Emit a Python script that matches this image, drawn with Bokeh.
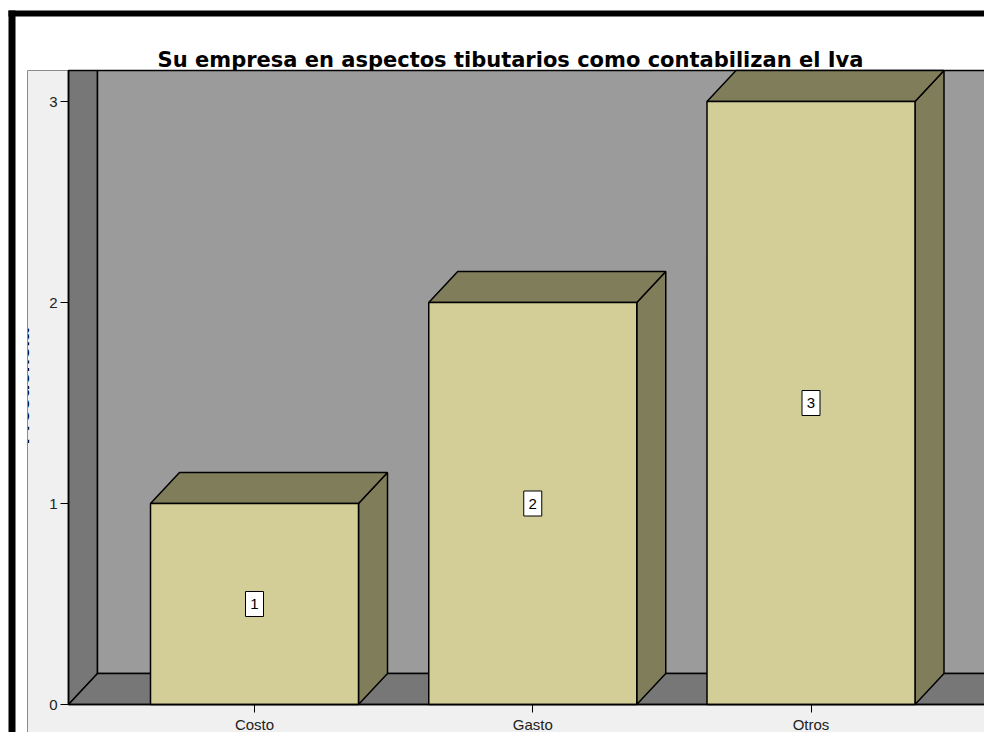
from bokeh.plotting import figure
from bokeh.models import Range1d, LinearAxis, FixedTicker
from bokeh.core.properties import value
from bokeh.embed import file_html
from bokeh.resources import INLINE

# ---------------- data ----------------
categories = ["Costo", "Gasto", "Otros"]
counts = [1, 2, 3]
value_labels = ["1", "2", "3"]
y_ticks = [0, 1, 2, 3]
title_text = "Su empresa en aspectos tibutarios como contabilizan el Iva"
y_title = "Frecuencia"

# ---------------- geometry (picture pixels -> data units) ----------------
W, H = 984, 732
X0_PX, X_UNIT = 254.0, 278.25   # centre of first category, px per category
Y0_PX, Y_UNIT = 704.0, 201.0    # baseline of counts, px per count


def fx(px):
    return (px - X0_PX) / X_UNIT


def fy(py):
    return (Y0_PX - py) / Y_UNIT


BW = 208.0 / X_UNIT       # bar width
DX = 29.0 / X_UNIT        # 3D depth (x)
DY = 31.0 / Y_UNIT        # 3D depth (y)

FONT = value("Liberation Sans")

FRONT = "#D3CE97"
SHADE = "#807E5A"
BACK = "#9B9B9B"
DARK = "#777777"
PANEL = "#F0F0F0"

p = figure(width=W, height=H, output_backend="svg", toolbar_location=None,
           x_range=Range1d(fx(0), fx(W)),
           y_range=Range1d(fy(H), fy(0)),
           x_axis_type=None, y_axis_type=None,
           min_border=0, min_border_left=0, min_border_right=0,
           min_border_top=0, min_border_bottom=0)
p.outline_line_color = None
p.background_fill_color = "white"
p.border_fill_color = "white"
p.grid.visible = False

# light grey chart panel
p.quad(left=fx(27), right=fx(993), bottom=fy(738), top=fy(70),
       fill_color=PANEL, line_color="#8C8C8C", line_width=1)

# left wall
p.patch([fx(68), fx(97), fx(97), fx(68)], [fy(70), fy(70), fy(704) + DY, fy(704)],
        fill_color=DARK, line_color="black", line_width=1.5)
# back wall
p.quad(left=fx(97), right=fx(993), bottom=fy(704) + DY, top=fy(70),
       fill_color=BACK, line_color="black", line_width=1.5)
# floor
p.patch([fx(68), fx(97), fx(993), fx(993)], [fy(704), fy(704) + DY, fy(704) + DY, fy(704)],
        fill_color=DARK, line_color="black", line_width=1.5)

# ---------------- bars ----------------
xc = list(range(len(categories)))
side_xs, side_ys, top_xs, top_ys = [], [], [], []
for i, v in zip(xc, counts):
    l, r = i - BW / 2, i + BW / 2
    side_xs.append([r, r + DX, r + DX, r])
    side_ys.append([0, DY, v + DY, v])
    top_xs.append([l, l + DX, r + DX, r])
    top_ys.append([v, v + DY, v + DY, v])

p.patches(side_xs, side_ys, fill_color=SHADE, line_color="black", line_width=1.5)
p.patches(top_xs, top_ys, fill_color=SHADE, line_color="black", line_width=1.5)
p.vbar(x=xc, top=counts, bottom=0, width=BW, fill_color=FRONT,
       line_color="black", line_width=1.5)

# value labels
mids = [v / 2 for v in counts]
p.rect(x=xc, y=mids, width=18, height=25, width_units="screen", height_units="screen",
       fill_color="white", line_color="black", line_width=1)
p.text(x=xc, y=mids, text=value_labels, text_align="center", text_baseline="middle",
       text_font=FONT, text_font_size="15px", text_color="black")

# ---------------- axes ----------------
yax = LinearAxis(fixed_location=fx(68), bounds=(0, fy(70)),
                 ticker=FixedTicker(ticks=y_ticks))
yax.major_tick_out = 8
yax.major_tick_in = 0
yax.minor_tick_out = 0
yax.minor_tick_in = 0
yax.axis_line_color = "black"
yax.axis_line_width = 1.5
yax.major_label_standoff = 3
yax.major_label_text_font = "Liberation Sans"
yax.major_label_text_font_size = "15px"
yax.major_label_text_color = "#222222"
p.add_layout(yax, "left")

xax = LinearAxis(fixed_location=0, bounds=(fx(68), fx(993)),
                 ticker=FixedTicker(ticks=xc),
                 major_label_overrides={i: c for i, c in zip(xc, categories)})
xax.major_tick_out = 8
xax.major_tick_in = 0
xax.minor_tick_out = 0
xax.minor_tick_in = 0
xax.axis_line_color = "black"
xax.axis_line_width = 1.5
xax.major_label_standoff = 3
xax.major_label_text_font = "Liberation Sans"
xax.major_label_text_font_size = "15px"
xax.major_label_text_color = "#222222"
p.add_layout(xax, "below")

# y-axis title (mostly hidden behind the panel edge, as in the original)
p.text(x=[fx(21)], y=[fy(386)], text=[y_title], angle=1.5708,
       text_align="center", text_baseline="alphabetic",
       text_font=FONT, text_font_size="22px", text_font_style="bold", text_color="black")
p.quad(left=fx(0), right=fx(27), bottom=fy(H), top=fy(0),
       fill_color="white", line_color=None)
p.segment(x0=[fx(27)], y0=[fy(738)], x1=[fx(27)], y1=[fy(70)], line_color="#8C8C8C", line_width=1)

# title
p.text(x=[fx(510)], y=[fy(59)], text=[title_text], text_align="center",
       text_baseline="alphabetic", text_font=value("DejaVu Sans"), text_font_size="21px",
       text_font_style="bold", text_color="black")

# outer black frame (left & top)
p.quad(left=fx(8), right=fx(15), bottom=fy(H), top=fy(10),
       fill_color="black", line_color=None)
p.quad(left=fx(8), right=fx(W), bottom=fy(16), top=fy(10),
       fill_color="black", line_color=None)

open("out.html", "w").write(file_html(p, INLINE))
